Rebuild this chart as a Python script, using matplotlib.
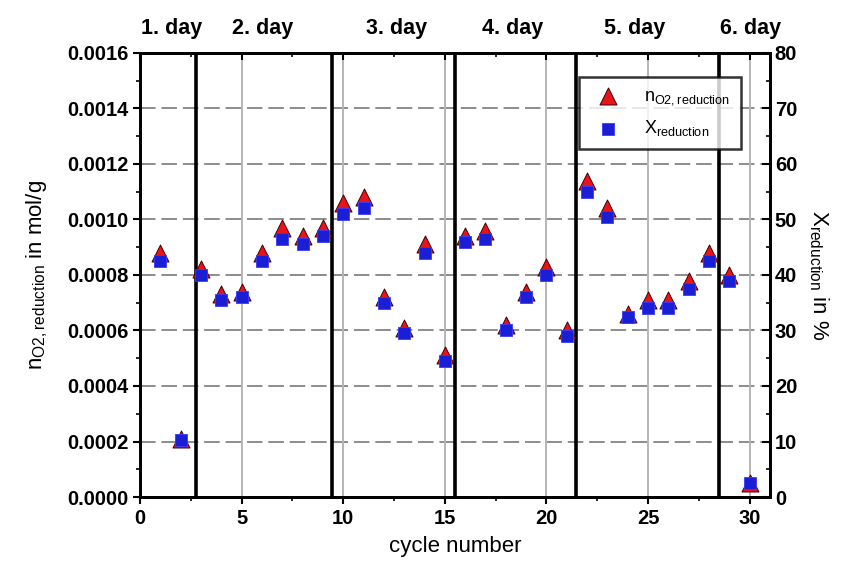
import matplotlib
matplotlib.use("Agg")
import matplotlib.pyplot as plt
from matplotlib.ticker import MultipleLocator

plt.rcParams["font.family"] = ["Liberation Sans", "DejaVu Sans"]
plt.rcParams["mathtext.default"] = "regular"

cycles = list(range(1, 31))
n_o2 = [0.00088, 0.00021, 0.00082, 0.00073, 0.00074, 0.00088, 0.00097, 0.00094,
        0.00097, 0.00106, 0.00108, 0.00072, 0.00061, 0.00091, 0.00051, 0.00094,
        0.00096, 0.00062, 0.00074, 0.00083, 0.00060, 0.00114, 0.00104, 0.00066,
        0.00071, 0.00071, 0.00078, 0.00088, 0.00080, 0.00005]
x_red = [42.5, 10.2, 40.0, 35.5, 36.0, 42.5, 46.5, 45.5, 47.0, 51.0, 52.0, 35.0,
         29.5, 44.0, 24.5, 46.0, 46.5, 30.0, 36.0, 40.0, 29.0, 55.0, 50.5, 32.5,
         34.0, 34.0, 37.5, 42.5, 39.0, 2.5]
day_bounds = [2.75, 9.45, 15.5, 21.45, 28.5]
day_labels = ["1. day", "2. day", "3. day", "4. day", "5. day", "6. day"]
day_label_x = [1.55, 6.05, 12.6, 18.35, 24.35, 30.05]

fig = plt.figure(figsize=(8.56, 5.66), dpi=100)
ax = fig.add_axes([0.1636, 0.1219, 0.7359, 0.7845])
ax2 = ax.twinx()

ax.set_xlim(0, 31)
ax.set_ylim(0, 0.0016)
ax2.set_ylim(0, 80)

# grid
for y in [0.0002, 0.0004, 0.0006, 0.0008, 0.0010, 0.0012, 0.0014]:
    ax.axhline(y, color="#8c8c8c", lw=1.4, ls=(0, (8, 3)), zorder=0)
for x in [5, 10, 15, 20, 25, 30]:
    ax.axvline(x, color="#b5b5b5", lw=1.4, zorder=0)

# day boundaries
for xb in day_bounds:
    ax.axvline(xb, color="black", lw=2.6, zorder=1)

tri = ax.scatter(cycles, n_o2, marker="^", s=150, color="#e8141b",
                 edgecolors="#400000", linewidths=0.7, zorder=3)
sq = ax2.scatter(cycles, x_red, marker="s", s=80, color="#1a1fd6",
                 edgecolors="#3a3aff", linewidths=0.6, zorder=3)

for lbl, xp in zip(day_labels, day_label_x):
    ax.text(xp, 0.00165, lbl, ha="center", va="bottom", fontsize=15.5,
            fontweight="bold")

ax.xaxis.set_major_locator(MultipleLocator(5))
ax.xaxis.set_minor_locator(MultipleLocator(2.5))
ax.yaxis.set_major_locator(MultipleLocator(0.0002))
ax.yaxis.set_minor_locator(MultipleLocator(0.0001))
ax.yaxis.set_major_formatter(plt.FuncFormatter(lambda v, p: f"{v:.4f}"))
ax2.yaxis.set_major_locator(MultipleLocator(10))
ax2.yaxis.set_minor_locator(MultipleLocator(5))

ax.tick_params(axis="both", which="major", labelsize=14.5, width=1.5, length=5)
ax.tick_params(axis="both", which="minor", width=1.2, length=3)
ax.tick_params(axis="both", which="both", direction="out")
ax2.tick_params(axis="y", which="major", direction="in", labelsize=14.5,
                width=1.5, length=6)
ax2.tick_params(axis="y", which="minor", direction="in", width=1.2, length=3)
for lab in ax.get_xticklabels() + ax.get_yticklabels() + ax2.get_yticklabels():
    lab.set_fontweight("bold")

# inward ticks on the top edge
top = ax.secondary_xaxis("top")
top.xaxis.set_major_locator(MultipleLocator(5))
top.xaxis.set_minor_locator(MultipleLocator(2.5))
top.tick_params(which="major", direction="in", width=1.5, length=5, labeltop=False)
top.tick_params(which="minor", direction="in", width=1.2, length=3)

for a in (ax, ax2):
    for s in a.spines.values():
        s.set_linewidth(2)

ax.set_xlabel("cycle number", fontsize=16, labelpad=6)
ax.set_ylabel("n$_{O2,reduction}$ in mol/g", fontsize=16, labelpad=12)
ax2.set_ylabel("X$_{reduction}$ in %", fontsize=16, rotation=270, labelpad=24)

leg = ax2.legend([tri, sq], ["n$_{O2,reduction}$", "X$_{reduction}$"],
                 loc="upper right", bbox_to_anchor=(0.968, 0.966),
                 fontsize=13, frameon=True, fancybox=False, edgecolor="black",
                 borderpad=0.6, handletextpad=1.0, labelspacing=0.6)
leg.get_frame().set_linewidth(1.8)

fig.savefig("out.png", dpi=100)
